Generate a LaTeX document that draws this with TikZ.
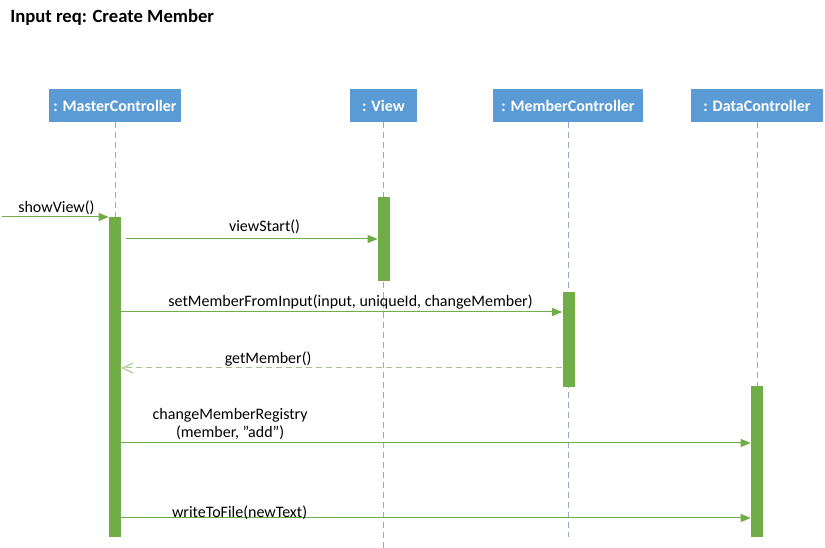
\documentclass[tikz,border=0pt]{standalone}
\usepackage{fontspec}
\setmainfont{Carlito}
\usetikzlibrary{arrows.meta}

\definecolor{boxblue}{HTML}{5B9BD5}
\definecolor{actgreen}{HTML}{70AD47}
\definecolor{lifegray}{HTML}{8FAACC}
\definecolor{retgreen}{HTML}{A4C48C}

\tikzset{
	obj/.style={fill=boxblue, text=white, font=\fontsize{12}{14}\selectfont\bfseries, minimum height=24.75pt, inner sep=0pt},
	act/.style={fill=actgreen, minimum width=9pt, inner sep=0pt},
	life/.style={lifegray, line width=0.75pt, dash pattern=on 4.5pt off 3pt},
	msg/.style={actgreen, line width=0.75pt, -{Triangle[length=7.5pt, width=6pt]}},
	ret/.style={retgreen, line width=0.75pt, dash pattern=on 4.5pt off 3pt, -{Straight Barb[length=8pt, width=7.5pt]}},
	lbl/.style={text=black, font=\fontsize{12}{13.5}\selectfont, inner sep=0pt}
}

\begin{document}
\begin{tikzpicture}[x=0.75pt, y=-0.75pt]
	\useasboundingbox (0,0) rectangle (825,548);
	\node[anchor=west, inner sep=0pt, font=\fontsize{14}{16}\selectfont\bfseries, name=title] at (10,17) {Input req: Create Member};
	% objects
	\node[obj, minimum width=99pt, name=master] at (115,105.5) {: MasterController};
	\node[obj, minimum width=50.25pt, name=view] at (383.5,105.5) {: View};
	\node[obj, minimum width=112.5pt, name=member] at (568,105.5) {: MemberController};
	\node[obj, minimum width=99pt, name=data] at (757,105.5) {: DataController};
	% lifelines
	\coordinate (masterend) at (115,537);
	\coordinate (viewend) at (383.5,548);
	\coordinate (memberend) at (568,537);
	\coordinate (dataend) at (757,537);
	\draw[life] (master) -- (masterend);
	\draw[life] (view) -- (viewend);
	\draw[life] (member) -- (memberend);
	\draw[life] (data) -- (dataend);
	% activation bars
	\node[act, minimum height=240pt, name=mbar] at (115,377) {};
	\node[act, minimum height=63pt, name=vbar] at (384,239) {};
	\node[act, minimum height=71.25pt, name=mcbar] at (568.5,339.5) {};
	\node[act, minimum height=113.25pt, name=dbar] at (757,461.5) {};
	% messages
	\coordinate (start) at (2,217);
	\draw[msg] (start) -- (mbar.west |- start) node[lbl, pos=0.51, anchor=base, yshift=3pt] {showView()};
	\draw[msg] ([xshift=3.75pt]mbar.east |- vbar) -- (vbar.west) node[lbl, pos=0.55, anchor=base, yshift=5.5pt] {viewStart()};
	\draw[msg] (mbar.east |- 0,312) -- (mcbar.west |- 0,312) node[lbl, pos=0.52, anchor=base, yshift=3.75pt] {setMemberFromInput(input, uniqueId, changeMember)};
	\draw[ret] (mcbar.west |- 0,368) -- (mbar.east |- 0,368) node[lbl, pos=0.667, anchor=base, yshift=3pt] {getMember()};
	\draw[msg] (mbar.east |- 0,443) -- (dbar.west |- 0,443) node[lbl, pos=0.173, anchor=south, align=center, yshift=2.25pt] {changeMemberRegistry\\(member, ”add”)};
	\draw[msg] (mbar.east |- 0,518) -- (dbar.west |- 0,518) node[lbl, pos=0.188, anchor=base, yshift=0.5pt] {writeToFile(newText)};
\end{tikzpicture}
\end{document}
